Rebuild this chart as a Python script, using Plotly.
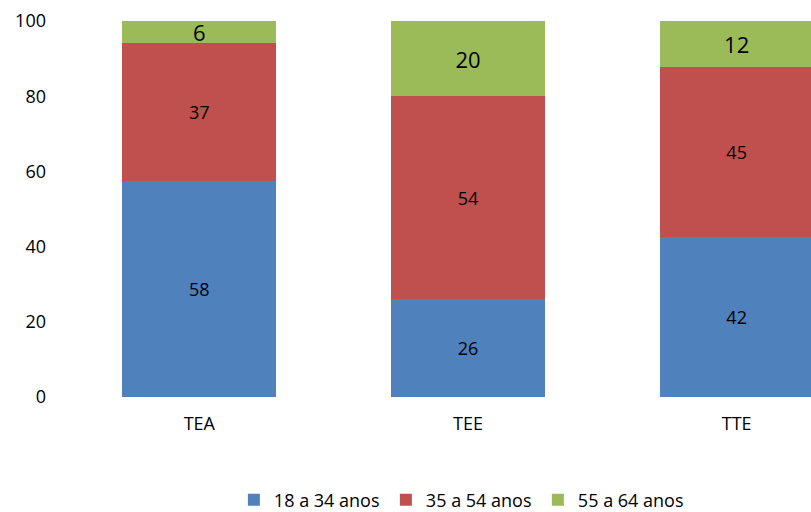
import plotly.graph_objects as go

categories = ["TEA", "TEE", "TTE"]
series_names = ["18 a 34 anos", "35 a 54 anos", "55 a 64 anos"]
values_18_34 = [58, 26, 42]
values_35_54 = [37, 54, 45]
values_55_64 = [6, 20, 12]
y_ticks = [0, 20, 40, 60, 80, 100]

colors = ["#4F81BD", "#C0504D", "#9BBB59"]
label_sizes = [18, 18, 22]
FONT = "'Open Sans', sans-serif"

fig = go.Figure()
for name, vals, col, ls in zip(series_names, [values_18_34, values_35_54, values_55_64], colors, label_sizes):
    fig.add_trace(go.Bar(
        x=categories, y=vals, name=name,
        marker=dict(color=col, line=dict(width=0)),
        text=[str(v) for v in vals], texttemplate="%{text}",
        textposition="inside", insidetextanchor="middle", textangle=0,
        constraintext="none",
        textfont=dict(size=ls, color="#000000", family=FONT),
        hoverinfo="skip",
    ))

fig.update_layout(
    barmode="stack", barnorm="percent",
    bargap=0.4265,
    width=811, height=512,
    margin=dict(l=65, r=0, t=21, b=115, autoexpand=False),
    paper_bgcolor="white", plot_bgcolor="white",
    font=dict(family=FONT, size=18, color="#000000"),
    showlegend=True,
    legend=dict(orientation="h", x=0.532, xanchor="center",
                yref="container", y=0.0234, yanchor="middle",
                font=dict(size=18, family=FONT), entrywidth=107, entrywidthmode="pixels",
                traceorder="normal"),
    xaxis=dict(range=[-0.5, 2.2767], showline=False, showgrid=False, zeroline=False,
               ticks="", ticklabelstandoff=14, tickfont=dict(size=18, family=FONT)),
    yaxis=dict(range=[0, 100], tickvals=y_ticks, showline=False, showgrid=False, zeroline=False,
               ticks="", ticklabelstandoff=18, tickfont=dict(size=18, family=FONT)),
)

fig.write_html("out.html", config={"displayModeBar": False},
               post_script="document.body.style.margin='0';document.body.style.overflow='hidden';")
